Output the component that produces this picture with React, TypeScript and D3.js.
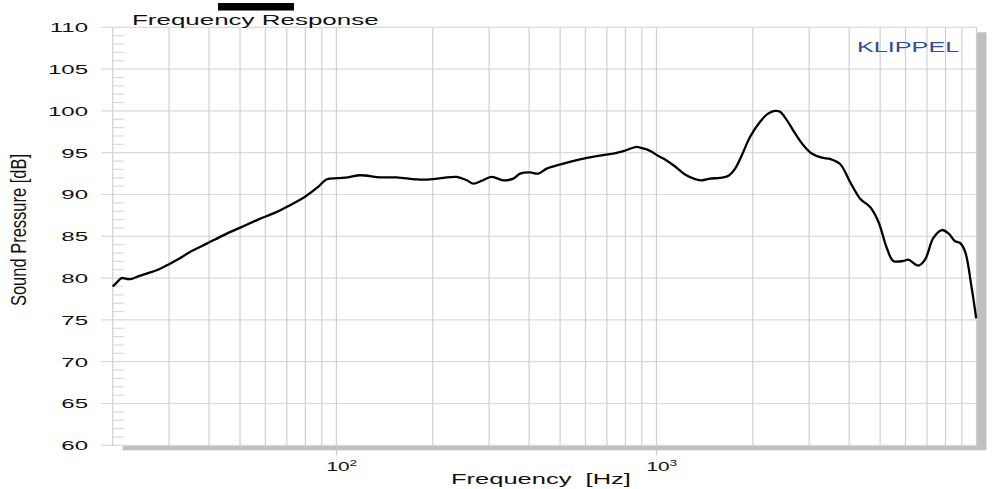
import React from 'react';
import * as d3 from 'd3';

const freqs = [
  20, 20.5, 21.3, 22.1, 22.9, 24, 25.8, 27.7, 29.8, 32, 35.2, 39.7, 44.8, 50.5, 56.9, 64.1, 70.6, 79.6,
  87.6, 93, 101, 108.7, 118.6, 136.9, 154.4, 178.3, 196, 215.9, 237.7, 255.5, 267.9, 284.4, 305.6, 332.4,
  357, 374.9, 402.8, 427.6, 454.2, 511.8, 576.9, 650.6, 733, 788, 868, 889, 933, 966, 1014, 1051, 1130,
  1228, 1321, 1386, 1471, 1581, 1679, 1761, 1848, 1962, 2108, 2238, 2349, 2433, 2554, 2712, 2878, 3057,
  3285, 3488, 3748, 4027, 4329, 4652, 4937, 5245, 5497, 5911, 6127, 6586, 6905, 7333, 7791, 8173, 8572,
  8889, 9216, 9661, 9978,
];
const spl = [
  79.0, 79.4, 80.0, 79.9, 79.9, 80.2, 80.6, 81.0, 81.6, 82.25, 83.2, 84.2, 85.2, 86.1, 87.0, 87.8, 88.6, 89.7,
  90.9, 91.8, 91.95, 92.05, 92.3, 92.05, 92.05, 91.8, 91.8, 92.0, 92.1, 91.7, 91.3, 91.65, 92.1, 91.7,
  91.9, 92.5, 92.65, 92.5, 93.1, 93.7, 94.2, 94.6, 94.9, 95.2, 95.7, 95.6, 95.4, 95.1, 94.6, 94.3, 93.5,
  92.4, 91.85, 91.7, 91.9, 92.0, 92.25, 93.1, 94.7, 96.9, 98.7, 99.7, 100.0, 99.9, 98.9, 97.3, 95.9, 94.9,
  94.4, 94.25, 93.65, 91.5, 89.5, 88.5, 86.75, 83.6, 82.05, 82.05, 82.2, 81.5, 82.2, 84.8, 85.75, 85.35, 84.4,
  84.2, 83.15, 78.8, 75.2,
];
const yTicks = [60, 65, 70, 75, 80, 85, 90, 95, 100, 105, 110];
const xLabelFreqs = [100, 1000];
const xLabelExps = ['2', '3'];

const W = 993;
const H = 489;
const font = '"Liberation Sans", Arial, sans-serif';

export default function App() {
  const left = 112.7, right = 976.5, top = 27.3, bottom = 445.3;
  const x = d3.scaleLog().domain([20, 10000]).range([left, right]);
  const y = d3.scaleLinear().domain([60, 110]).range([bottom, top]);

  const data = freqs.map((f, i) => [f, spl[i]] as [number, number]);
  const line = d3.line<[number, number]>()
    .x(d => x(d[0]))
    .y(d => y(d[1]))
    .curve(d3.curveCatmullRom.alpha(0.5));

  const gridX = x.ticks().filter(f => f > 20);
  const minorY = d3.range(61, 110).filter(v => v % 5 !== 0);

  return (
    <svg width={W} height={H} style={{ position: 'absolute', left: 0, top: 0, background: '#fff' }}>
      {/* drop shadow + plot area */}
      <rect x={left + 10} y={top + 5} width={right - left} height={bottom - top} fill="#c0c0c0" />
      <rect x={left} y={top} width={right - left} height={bottom - top} fill="#fff" />

      {yTicks.map(v => (
        <line key={'h' + v} x1={101} x2={right} y1={y(v)} y2={y(v)} stroke="#dadada" strokeWidth={1.2} />
      ))}
      {gridX.map(f => (
        <line key={'v' + f} x1={x(f)} x2={x(f)} y1={top} y2={bottom} stroke="#d0d0d0" strokeWidth={1.2} />
      ))}
      {xLabelFreqs.map(f => (
        <line key={'t' + f} x1={x(f)} x2={x(f)} y1={bottom} y2={bottom + 10} stroke="#c8c8c8" strokeWidth={1.2} />
      ))}
      {minorY.map(v => (
        <line key={'m' + v} x1={left} x2={left + 11} y1={y(v)} y2={y(v)} stroke="#dadada" strokeWidth={1.2} />
      ))}
      <line x1={left} x2={left} y1={top} y2={bottom} stroke="#d0d0d0" strokeWidth={1.2} />

      <path d={line(data) || ''} fill="none" stroke="#000" strokeWidth={2.3} strokeLinejoin="round" />

      {/* y tick labels */}
      {yTicks.map(v => (
        <text key={'l' + v} transform={`translate(88,${y(v) + 4.8}) scale(1.78,1)`} textAnchor="end"
          fontFamily={font} fontSize={13.5} fill="#111">{v}</text>
      ))}

      {/* x tick labels */}
      {xLabelFreqs.map((f, i) => (
        <text key={'xl' + f} transform={`translate(${x(f) - 10},471) scale(1.6,1)`} fontFamily={font}
          fontSize={13} fill="#111">
          10<tspan fontSize={8.5} dy={-5.5}>{xLabelExps[i]}</tspan>
        </text>
      ))}

      <rect x={218} y={3} width={76} height={7.5} fill="#000" />
      <text transform="translate(132,25) scale(1.73,1)" fontFamily={font} fontSize={15} fill="#111">
        Frequency Response
      </text>
      <text transform="translate(451,484) scale(1.7,1)" fontFamily={font} fontSize={15} fill="#111">
        {'Frequency\u00a0\u00a0[Hz]'}
      </text>
      <text transform="translate(26,230) scale(1.35,1) rotate(-90)" textAnchor="middle" fontFamily={font}
        fontSize={16.5} fill="#111">
        Sound Pressure [dB]
      </text>
      <text transform="translate(857,52) scale(1.8,1)" fontFamily={font} fontSize={14} fill="#2c4d9c">
        KLIPPEL
      </text>
    </svg>
  );
}
